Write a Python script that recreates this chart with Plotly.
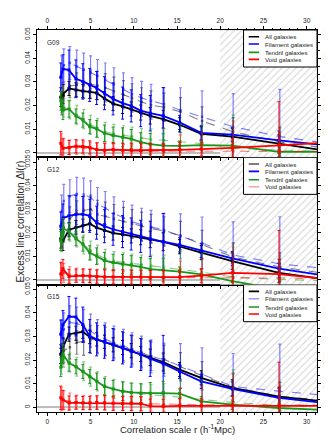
import plotly.graph_objects as go

# bin centres in r (h^-1 Mpc); the dashed series are drawn slightly offset
r_bins = [1.55, 1.8, 2.5, 3.3, 4.1, 4.9, 5.7, 6.6, 7.6, 8.7, 9.7, 10.8, 11.9, 13.4, 15.3, 17.8, 21.4, 26.8, 33.0]
r_bins_dash = [1.65, 1.9, 2.6, 3.4, 4.2, 5.0, 5.8, 6.7, 7.7, 8.8, 9.8, 10.9, 12.0, 13.5, 15.4, 17.9, 21.5, 26.9, 33.1]

# G09
g09_all = [0.0235, 0.0248, 0.0272, 0.0266, 0.0261, 0.0258, 0.0253, 0.0230, 0.0208, 0.0196, 0.0185, 0.0170, 0.0156, 0.0142, 0.0118, 0.0080, 0.0068, 0.0036, 0.0004]
g09_all_dash = [0.021, 0.024, 0.0283, 0.0288, 0.029, 0.029, 0.0285, 0.0275, 0.026, 0.0245, 0.0232, 0.0215, 0.0202, 0.0192, 0.0173, 0.0134, 0.0088, 0.0045, 0.0015]
g09_fil = [0.032, 0.0355, 0.035, 0.0313, 0.0302, 0.0287, 0.0274, 0.0252, 0.0228, 0.021, 0.0198, 0.0178, 0.0167, 0.0156, 0.0128, 0.0084, 0.0076, 0.0052, 0.0028]
g09_fil_dash = [0.034, 0.037, 0.038, 0.0365, 0.0352, 0.034, 0.0325, 0.031, 0.029, 0.0268, 0.0248, 0.0232, 0.022, 0.0205, 0.018, 0.0152, 0.011, 0.0068, 0.0036]
g09_ten = [0.022, 0.018, 0.0185, 0.0155, 0.0138, 0.011, 0.0101, 0.0082, 0.0073, 0.0065, 0.0058, 0.0045, 0.0036, 0.003, 0.0029, 0.0032, 0.003, 0.0003, 0.0003]
g09_ten_dash = [0.021, 0.019, 0.0183, 0.016, 0.0142, 0.0118, 0.0104, 0.0088, 0.008, 0.0074, 0.0068, 0.0062, 0.0056, 0.0052, 0.0046, 0.0038, 0.002, 0.001, 0.0007]
g09_void = [0.004, 0.0018, 0.0022, 0.0027, 0.0026, 0.0022, 0.0013, 0.001, 0.0013, 0.001, 0.001, 0.001, 0.001, 0.001, 0.0012, 0.0015, 0.002, 0.0031, 0.0044]
g09_void_dash = [0.003, 0.002, 0.0018, 0.0022, 0.002, 0.0015, 0.0012, 0.001, 0.0008, 0.0007, 0.0007, 0.0006, 0.0006, 0.0005, 0.0005, 0.0005, 0.0005, 0.0005, 0.0005]

# G12
g12_all = [0.0175, 0.0165, 0.0213, 0.0222, 0.023, 0.0238, 0.0222, 0.021, 0.0199, 0.0193, 0.0187, 0.0181, 0.0172, 0.0162, 0.0141, 0.0116, 0.008, 0.003, -0.0001]
g12_all_dash = [0.019, 0.022, 0.026, 0.0285, 0.0295, 0.03, 0.0278, 0.027, 0.026, 0.0248, 0.0238, 0.0228, 0.0218, 0.0208, 0.0188, 0.015, 0.0097, 0.0055, 0.0023]
g12_fil = [0.0228, 0.0262, 0.0272, 0.0278, 0.0279, 0.0272, 0.0243, 0.0228, 0.0215, 0.0205, 0.0195, 0.0185, 0.0174, 0.0162, 0.0149, 0.0125, 0.0091, 0.0048, 0.0014]
g12_fil_dash = [0.029, 0.0335, 0.0355, 0.0365, 0.0362, 0.035, 0.0322, 0.0305, 0.0282, 0.0263, 0.0247, 0.0234, 0.0225, 0.0212, 0.0185, 0.0157, 0.0106, 0.0068, 0.0045]
g12_ten = [0.0165, 0.022, 0.0205, 0.0175, 0.0152, 0.0115, 0.0101, 0.0082, 0.0074, 0.0068, 0.0063, 0.0055, 0.0046, 0.0042, 0.0035, 0.0024, -0.0005, -0.004, -0.007]
g12_ten_dash = [0.016, 0.02, 0.0205, 0.018, 0.015, 0.0125, 0.0108, 0.009, 0.008, 0.0075, 0.007, 0.0065, 0.006, 0.0055, 0.0045, 0.0033, 0.0012, 0.0002, -0.0004]
g12_void = [0.0025, 0.0047, 0.0015, 0.0018, 0.0018, 0.0017, 0.0014, 0.0013, 0.0013, 0.0013, 0.0012, 0.0012, 0.001, 0.001, 0.0012, 0.0018, 0.003, 0.0025, 0.0001]
g12_void_dash = [0.002, 0.003, 0.0022, 0.002, 0.0018, 0.0016, 0.0015, 0.0014, 0.0013, 0.0012, 0.0012, 0.0011, 0.0011, 0.001, 0.001, 0.001, 0.0009, 0.0008, 0.0004]

# G15
g15_all = [0.0225, 0.0255, 0.031, 0.0314, 0.032, 0.0298, 0.0288, 0.0278, 0.0265, 0.0253, 0.024, 0.0226, 0.0212, 0.0192, 0.016, 0.0125, 0.0082, 0.0045, 0.0021]
g15_all_dash = [0.022, 0.024, 0.0255, 0.0275, 0.028, 0.0288, 0.0286, 0.028, 0.027, 0.0257, 0.0244, 0.023, 0.0216, 0.0204, 0.0172, 0.0134, 0.0085, 0.0046, 0.0026]
g15_fil = [0.031, 0.035, 0.0385, 0.0383, 0.035, 0.0302, 0.0288, 0.0278, 0.0266, 0.0252, 0.0238, 0.0224, 0.0206, 0.0185, 0.0152, 0.011, 0.0078, 0.004, 0.0015]
g15_fil_dash = [0.03, 0.033, 0.036, 0.0355, 0.0345, 0.0325, 0.0302, 0.0288, 0.0274, 0.026, 0.0246, 0.0232, 0.0216, 0.0202, 0.0175, 0.0142, 0.0088, 0.0068, 0.0048]
g15_ten = [0.017, 0.0225, 0.0188, 0.0172, 0.0152, 0.013, 0.011, 0.0088, 0.0078, 0.0068, 0.0063, 0.006, 0.006, 0.006, 0.0058, 0.0025, 0.0011, -0.0003, -0.0013]
g15_ten_dash = [0.018, 0.021, 0.019, 0.0172, 0.0153, 0.013, 0.011, 0.009, 0.0078, 0.0068, 0.0062, 0.0058, 0.0052, 0.005, 0.0042, 0.0033, 0.002, 0.0007, 0.0]
g15_void = [0.004, 0.0032, 0.0018, 0.002, 0.0018, 0.0018, 0.002, 0.0019, 0.0017, 0.0016, 0.0016, 0.0015, 0.0005, 0.0004, 0.0006, 0.0006, 0.0006, 0.0006, 0.0006]
g15_void_dash = [0.0035, 0.003, 0.0025, 0.0022, 0.002, 0.002, 0.002, 0.0019, 0.0018, 0.0017, 0.0016, 0.0015, 0.0014, 0.0013, 0.0012, 0.0011, 0.001, 0.001, 0.001]

# error bars (similar in all three fields)
err_all = [0.004, 0.004, 0.003, 0.003, 0.0028, 0.0028, 0.0028, 0.0028, 0.003, 0.003, 0.003, 0.0032, 0.0035, 0.0038, 0.003, 0.003, 0.0035, 0.004, 0]
err_all_dash = [0.005, 0.005, 0.005, 0.005, 0.006, 0.006, 0.006, 0.006, 0.006, 0.006, 0.006, 0.006, 0.006, 0.006, 0.006, 0.006, 0.006, 0.006, 0]
err_fil = [0.006, 0.006, 0.0085, 0.008, 0.0075, 0.007, 0.007, 0.007, 0.0068, 0.0068, 0.0068, 0.0068, 0.0075, 0.012, 0.003, 0.003, 0.003, 0.004, 0]
err_fil_dash = [0.007, 0.007, 0.007, 0.007, 0.007, 0.007, 0.007, 0.007, 0.007, 0.007, 0.007, 0.007, 0.007, 0.007, 0.0095, 0.011, 0.014, 0.02, 0]
err_ten = [0.004, 0.004, 0.0035, 0.003, 0.003, 0.003, 0.0035, 0.0035, 0.0035, 0.004, 0.004, 0.004, 0.0045, 0.005, 0.002, 0.002, 0.002, 0.002, 0]
err_ten_dash = [0.004, 0.004, 0.004, 0.004, 0.004, 0.004, 0.004, 0.004, 0.004, 0.004, 0.004, 0.004, 0.0045, 0.005, 0.0075, 0.008, 0.014, 0.01, 0]
err_void = [0.005, 0.004, 0.003, 0.0028, 0.0028, 0.0028, 0.0028, 0.003, 0.003, 0.003, 0.003, 0.003, 0.003, 0.003, 0.003, 0.003, 0.004, 0.0185, 0]
err_void_dash = [0.005, 0.004, 0.0035, 0.003, 0.003, 0.003, 0.003, 0.003, 0.003, 0.003, 0.003, 0.003, 0.003, 0.003, 0.007, 0.008, 0.013, 0.008, 0]

samples = ["all", "fil", "ten", "void"]
sample_names = ["All galaxies", "Filament galaxies", "Tendril galaxies", "Void galaxies"]
barvy = {"all": "#000000", "fil": "#0000ff", "ten": "#1a961a", "void": "#ff0000"}
barvy_svetle = {"all": "rgba(0,0,0,0.5)", "fil": "rgba(0,0,255,0.5)",
                "ten": "rgba(26,150,26,0.5)", "void": "rgba(255,0,0,0.5)"}
chyby = {"all": (err_all, err_all_dash), "fil": (err_fil, err_fil_dash),
         "ten": (err_ten, err_ten_dash), "void": (err_void, err_void_dash)}

panely = [
    ("G09", "x3", "y3", {"all": (g09_all, g09_all_dash), "fil": (g09_fil, g09_fil_dash),
                         "ten": (g09_ten, g09_ten_dash), "void": (g09_void, g09_void_dash)}),
    ("G12", "x2", "y2", {"all": (g12_all, g12_all_dash), "fil": (g12_fil, g12_fil_dash),
                         "ten": (g12_ten, g12_ten_dash), "void": (g12_void, g12_void_dash)}),
    ("G15", "x", "y", {"all": (g15_all, g15_all_dash), "fil": (g15_fil, g15_fil_dash),
                       "ten": (g15_ten, g15_ten_dash), "void": (g15_void, g15_void_dash)}),
]

# legend line colours as they appear in each panel
legend_barvy = {
    "G09": ["#000000", "#0000ff", "#1a961a", "#ff0000"],
    "G12": ["#555555", "#0000ff", "#1a961a", "#f5a3a3"],
    "G15": ["#000000", "#9999ff", "#1a961a", "#ff0000"],
}

x_range = [-1.2, 31.2]
y_range = [-0.002, 0.052]
hatch_od = 20

fig = go.Figure()

for nazev, xa, ya, data in panely:
    # excluded region r > 20
    fig.add_trace(go.Scatter(
        x=[hatch_od, x_range[1], x_range[1], hatch_od],
        y=[y_range[0], y_range[0], y_range[1], y_range[1]],
        fill="toself", mode="lines", fillcolor="white",
        fillpattern=dict(shape="/", fgcolor="#b4b4b4", bgcolor="white", size=5, solidity=0.22),
        line=dict(color="#c8c8c8", width=0.6),
        xaxis=xa, yaxis=ya, showlegend=False, hoverinfo="skip",
    ))
    for s in samples:
        plna, carkovana = data[s]
        e_plna, e_carkovana = chyby[s]
        fig.add_trace(go.Scatter(
            x=r_bins_dash, y=carkovana, mode="lines+markers",
            line=dict(color=barvy_svetle[s], width=1.1, dash="dash"),
            marker=dict(symbol="square", size=2.5, color=barvy_svetle[s]),
            error_y=dict(type="data", array=e_carkovana, color=barvy_svetle[s], thickness=1.2, width=1.5),
            xaxis=xa, yaxis=ya, showlegend=False,
        ))
        fig.add_trace(go.Scatter(
            x=r_bins, y=plna, mode="lines+markers",
            line=dict(color=barvy[s], width=1.8),
            marker=dict(symbol="square", size=3, color=barvy[s]),
            error_y=dict(type="data", array=e_plna, color=barvy[s], thickness=1, width=1.5),
            xaxis=xa, yaxis=ya, showlegend=False, name=sample_names[samples.index(s)],
        ))

# empty traces so that the top x axis and the right y axes get drawn
for xa, ya in [("x4", "y3"), ("x", "y4"), ("x2", "y5"), ("x3", "y6")]:
    fig.add_trace(go.Scatter(x=[None], y=[None], xaxis=xa, yaxis=ya, showlegend=False, hoverinfo="skip"))

font = "Liberation Sans, Arial, sans-serif"
osa_x = dict(
    range=x_range, tick0=0, dtick=5, ticks="outside", ticklen=3, tickwidth=1, tickcolor="black",
    showline=True, linecolor="black", linewidth=1, mirror=True, showgrid=False, zeroline=False,
    minor=dict(dtick=1, ticks="outside", ticklen=1.5, tickcolor="black"),
    tickfont=dict(size=6.5, color="#222"), automargin=False,
)
osa_y = dict(
    range=y_range, tickvals=[0, 0.01, 0.02, 0.03, 0.04, 0.05],
    ticktext=["0", "0.01", "0.02", "0.03", "0.04", "0.05"], tickangle=-90,
    ticks="outside", ticklen=3, tickwidth=1, tickcolor="black",
    showline=True, linecolor="black", linewidth=1, mirror=True, showgrid=False,
    zeroline=True, zerolinecolor="#bdbdbd", zerolinewidth=1.5,
    minor=dict(dtick=0.01 / 3, ticks="outside", ticklen=1.5, tickcolor="black"),
    tickfont=dict(size=6.5, color="#222"), automargin=False,
)
osa_y_prava = dict(
    range=y_range, tickvals=[0, 0.01, 0.02, 0.03, 0.04, 0.05],
    ticktext=["0", "0.01", "0.02", "0.03", "0.04", "0.05"], tickangle=90, side="right",
    ticks="outside", ticklen=3, tickwidth=1, tickcolor="black", showline=False,
    showgrid=False, zeroline=False,
    minor=dict(dtick=0.01 / 3, ticks="outside", ticklen=1.5, tickcolor="black"),
    tickfont=dict(size=6.5, color="#222"), automargin=False,
)

# the page body adds an 8 px margin, so the figure is 8 px smaller than the window
fig.update_layout(
    width=324, height=435, autosize=False,
    margin=dict(l=29, r=14.5, t=22, b=31),
    paper_bgcolor="white", plot_bgcolor="white",
    font=dict(family=font, color="#222"),
    showlegend=False,
    xaxis=dict(osa_x, anchor="y"),
    xaxis2=dict(osa_x, anchor="y2", showticklabels=False),
    xaxis3=dict(osa_x, anchor="y3", showticklabels=False),
    xaxis4=dict(osa_x, anchor="y3", overlaying="x3", side="top", showline=False),
    yaxis=dict(osa_y, domain=[0, 1 / 3], anchor="x"),
    yaxis2=dict(osa_y, domain=[1 / 3, 2 / 3], anchor="x2"),
    yaxis3=dict(osa_y, domain=[2 / 3, 1], anchor="x3"),
    yaxis4=dict(osa_y_prava, overlaying="y", anchor="x"),
    yaxis5=dict(osa_y_prava, overlaying="y2", anchor="x2"),
    yaxis6=dict(osa_y_prava, overlaying="y3", anchor="x3"),
)

# legend boxes and field labels
radky = [0.04915, 0.04605, 0.04252, 0.03954]
for nazev, xa, ya, data in panely:
    xr, yr = xa, ya
    fig.add_shape(type="rect", xref=xr, yref=yr, x0=22.7, x1=31.2, y0=0.0363, y1=0.052,
                  fillcolor="white", line=dict(color="black", width=1), layer="above")
    for i, txt in enumerate(sample_names):
        fig.add_shape(type="line", xref=xr, yref=yr, x0=23.3, x1=24.5, y0=radky[i], y1=radky[i],
                      line=dict(color=legend_barvy[nazev][i], width=1.6), layer="above")
        fig.add_annotation(x=25.0, y=radky[i], xref=xr, yref=yr, text=txt, showarrow=False,
                           xanchor="left", yanchor="middle", font=dict(size=6.2, color="#222"))
    fig.add_annotation(x=-0.3, y=0.0469, xref=xr, yref=yr, text=nazev, showarrow=False,
                       xanchor="left", yanchor="middle", font=dict(size=6.5, color="#222"))

fig.add_annotation(x=-0.086, y=0.5, xref="paper", yref="paper", textangle=-90,
                   text="Excess line correlation \u0394l(r)", showarrow=False,
                   font=dict(size=10, color="#222"))
fig.add_annotation(x=0.5, y=-0.045, xref="paper", yref="paper",
                   text="Correlation scale r (h<sup>-1</sup>Mpc)", showarrow=False,
                   yanchor="middle", font=dict(size=9.5, color="#222"))

fig.write_html("out.html")
